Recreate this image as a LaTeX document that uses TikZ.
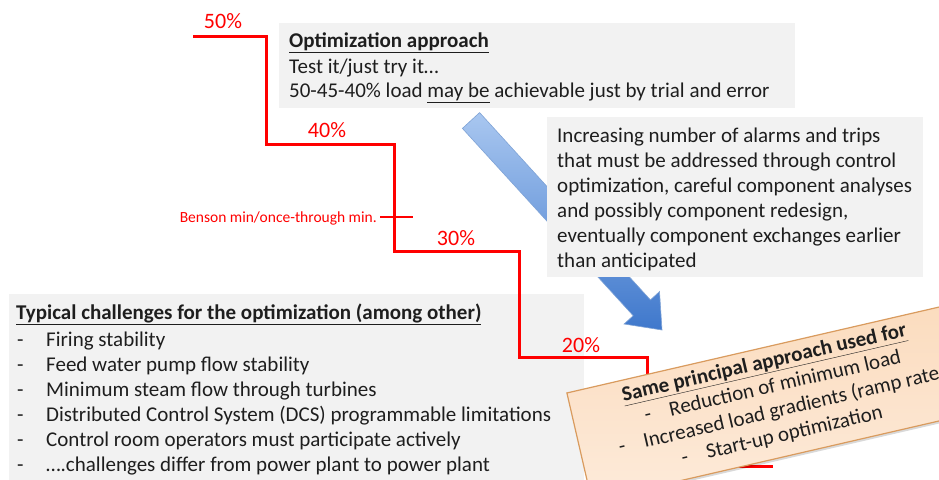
\documentclass[tikz,border=0pt]{standalone}
\usepackage{fontspec}
\setmainfont{Carlito}
\definecolor{redline}{HTML}{FF0000}
\definecolor{boxgray}{HTML}{F2F2F2}
\definecolor{txt}{HTML}{1E1E1E}
\definecolor{bluetop}{HTML}{A9C7F0}
\definecolor{bluebot}{HTML}{3F78CC}
\definecolor{blueedge}{HTML}{7FA3D6}
\definecolor{peachA}{HTML}{FBDCBE}
\definecolor{peachB}{HTML}{FCE3CC}
\definecolor{peachC}{HTML}{FDEBDA}
\definecolor{peachEdge}{HTML}{D99B5E}
\begin{document}
\begin{tikzpicture}[x=1pt,y=-1pt,
  graybox/.style={fill=boxgray, draw=none, anchor=north west, inner sep=0pt, outer sep=0pt},
  bodytext/.style={anchor=base west, inner sep=0pt, text=txt, font=\fontsize{21}{25}\selectfont},
  pct/.style={anchor=base, inner sep=0pt, text=redline, font=\fontsize{22}{26}\selectfont},
  redstep/.style={draw=redline, line width=3pt},
  rottext/.style={anchor=base, inner sep=0pt, text=txt, transform shape, font=\fontsize{21}{25}\selectfont},
]
\useasboundingbox (0,0) rectangle (939,479);
\clip (0,0) rectangle (939,479);
\fill[white] (0,0) rectangle (939,479);

% blue arrow (behind the grey box)
\coordinate (aS1) at (479.6,112.6);
\coordinate (aS2) at (462.4,128.4);
\coordinate (aB1) at (650.4,299.9);
\coordinate (aB2) at (633.2,315.7);
\coordinate (aW1) at (659.5,291.6);
\coordinate (aW2) at (624.1,324.0);
\coordinate (aT) at (662,330);
\draw[blueedge, line width=0.6pt, top color=bluetop, bottom color=bluebot]
  (aS1) -- (aB1) -- (aW1) -- (aT) -- (aW2) -- (aB2) -- (aS2) -- cycle;

% grey boxes
\node[graybox, minimum width=516, minimum height=85] (optbox) at (279,23) {};
\node[graybox, minimum width=376, minimum height=160] (incbox) at (547,117) {};
\node[graybox, minimum width=575, minimum height=200] (typbox) at (9,294) {};

% texts of optimization box
\node[bodytext] (opt1) at (289,47) {\underline{\textbf{Optimization approach}}};
\node[bodytext] (opt2) at (289,73) {Test it/just try it…};
\node[bodytext] (opt3) at (289,97) {50-45-40\% load \underline{may be} achievable just by trial and error};

% texts of increasing box
\node[bodytext] (inc1) at (557,142) {Increasing number of alarms and trips};
\node[bodytext] (inc2) at (557,167) {that must be addressed through control};
\node[bodytext] (inc3) at (557,192) {optimization, careful component analyses};
\node[bodytext] (inc4) at (557,217) {and possibly component redesign,};
\node[bodytext] (inc5) at (557,242) {eventually component exchanges earlier};
\node[bodytext] (inc6) at (557,267) {than anticipated};

% texts of typical box
\node[bodytext] (typ0) at (16,319) {\underline{\textbf{Typical challenges for the optimization (among other)}}};
\foreach \i/\t in {1/Firing stability,2/Feed water pump flow stability,3/Minimum steam flow through turbines,4/Distributed Control System (DCS) programmable limitations,5/Control room operators must participate actively,6/….challenges differ from power plant to power plant}{
  \node[bodytext] (typd\i) at (17,{321+25*\i}) {-};
  \node[bodytext] (typ\i) at (46,{321+25*\i}) {\t};
}

% red step line
\coordinate (r0) at (193,36);
\coordinate (r1) at (266,36);
\coordinate (r2) at (266,144);
\coordinate (r3) at (394,144);
\coordinate (r4) at (394,251);
\coordinate (r5) at (519,251);
\coordinate (r6) at (519,357);
\coordinate (r7) at (647,357);
\coordinate (r8) at (647,466);
\coordinate (r9) at (773,466);
\draw[redstep, line join=miter] (r0) -- (r1) -- (r2) -- (r3) -- (r4) -- (r5) -- (r6) -- (r7) -- (r8) -- (r9);
\coordinate (bt1) at (380,217);
\coordinate (bt2) at (413,217);
\draw[draw=redline, line width=2pt] (bt1) -- (bt2);
\node[anchor=base east, inner sep=0pt, text=redline, font=\fontsize{15.5}{18}\selectfont] (benson) at (377,222) {Benson min/once-through min.};

\node[pct] (p50) at (223,28) {50\%};
\node[pct] (p40) at (327,137) {40\%};
\node[pct] (p30) at (456,245) {30\%};
\node[pct] (p20) at (581,352) {20\%};

% rotated box
\begin{scope}[shift={(774.7,404)}, rotate=13]
  \fill[black, opacity=0.15] (-197,-54.5) rectangle (203,56);
  \draw[peachEdge, line width=1.2pt, top color=peachA, bottom color=peachC, middle color=peachB]
    (-200,-57.5) rectangle (200,53.5);
  \node[rottext] (s0) at (-1,-36.5) {\underline{\textbf{Same principal approach used for}}};
  \node[rottext] (s1) at (2,-11.5) {-\hspace{19pt}Reduction of minimum load};
  \node[rottext] (s2) at (10,13.5) {-\hspace{19pt}Increased load gradients (ramp rates)};
  \node[rottext] (s3) at (0,38.5) {-\hspace{19pt}Start-up optimization};
\end{scope}
\end{tikzpicture}
\end{document}
